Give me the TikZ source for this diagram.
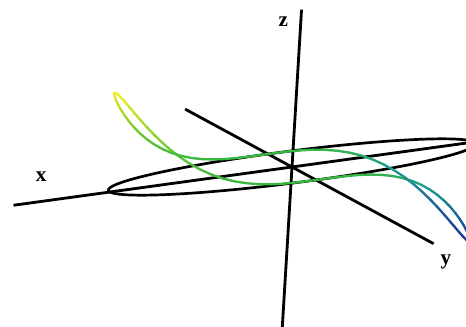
\documentclass[tikz,border=0pt]{standalone}
\usepackage{fontspec}
\setmainfont{Liberation Serif}
\usetikzlibrary{positioning}

\definecolor{cyel}{rgb}{0.95,0.93,0.15}
\definecolor{cgrn}{rgb}{0.22,0.72,0.25}
\definecolor{cteal}{rgb}{0.12,0.62,0.55}
\definecolor{cblu}{rgb}{0.10,0.20,0.62}

\tikzset{
  axisline/.style={line width=2.4pt},
  rim/.style={line width=2.3pt},
  curve/.style={line width=2pt, line cap=round},
  lbl/.style={font=\fontsize{18}{20}\selectfont\bfseries, inner sep=0pt}
}

\begin{document}
\begin{tikzpicture}
\useasboundingbox (0cm,0cm) rectangle (13.98cm,9.78cm);
\clip (0cm,0cm) rectangle (13.98cm,9.78cm);
\begin{scope}[shift={(8.76cm,4.77cm)},
  x={(-5.46cm,-0.75cm)}, y={(0.72cm,-0.39cm)}, z={(0.18cm,2.97cm)}]

  % AXES ENDS
  \coordinate (xend) at (1.53,0,0);
  \coordinate (xneg) at (-1.05,0,0);
  \coordinate (yneg) at (0,-4.45,0);
  \coordinate (yend) at (0,5.9,0);
  \coordinate (zend) at (0,0,1.59);
  \coordinate (zneg) at (0,0,-1.75);

  % CIRCLE IN THE XY PLANE
  \draw[rim] plot[domain=0:360, samples=121, smooth] ({cos(\x)},{sin(\x)},0) -- cycle;

  % AXES
  \draw[axisline] (xend) -- (xneg);
  \draw[axisline] (yneg) -- (yend);
  \draw[axisline] (zneg) -- (zend);

  % CURVE, coloured by height
  \foreach \t in {0,4,...,356}{
    \pgfmathsetmacro\tb{\t+4}
    \pgfmathsetmacro\v{cos(\t+2)*cos(\t+2)*cos(\t+2)}
    \ifdim\v pt<0pt
      \pgfmathsetmacro\pa{min(100,-400*\v)}
      \pgfmathsetmacro\pb{max(0,(-\v-0.25)/0.75*100)}
      \colorlet{tmpc}{cteal!\pa!cgrn}
      \colorlet{cc}{cblu!\pb!tmpc}
    \else
      \pgfmathsetmacro\pa{100*\v*sqrt(\v)}
      \colorlet{cc}{cyel!\pa!cgrn}
    \fi
    \draw[curve, cc] ({cos(\t)},{sin(\t)},{cos(\t)*cos(\t)*cos(\t)})
      -- ({cos(\tb)},{sin(\tb)},{cos(\tb)*cos(\tb)*cos(\tb)});
  }

  % LABELS
  \node[lbl, above right=0.72cm and 0.66cm of xend] (xlab) {x};
  \node[lbl, below left=0.2cm and 0.4cm of zend] (zlab) {z};
  \node[lbl, below right=0.32cm and 0.2cm of yend] (ylab) {y};
\end{scope}
\end{tikzpicture}
\end{document}
